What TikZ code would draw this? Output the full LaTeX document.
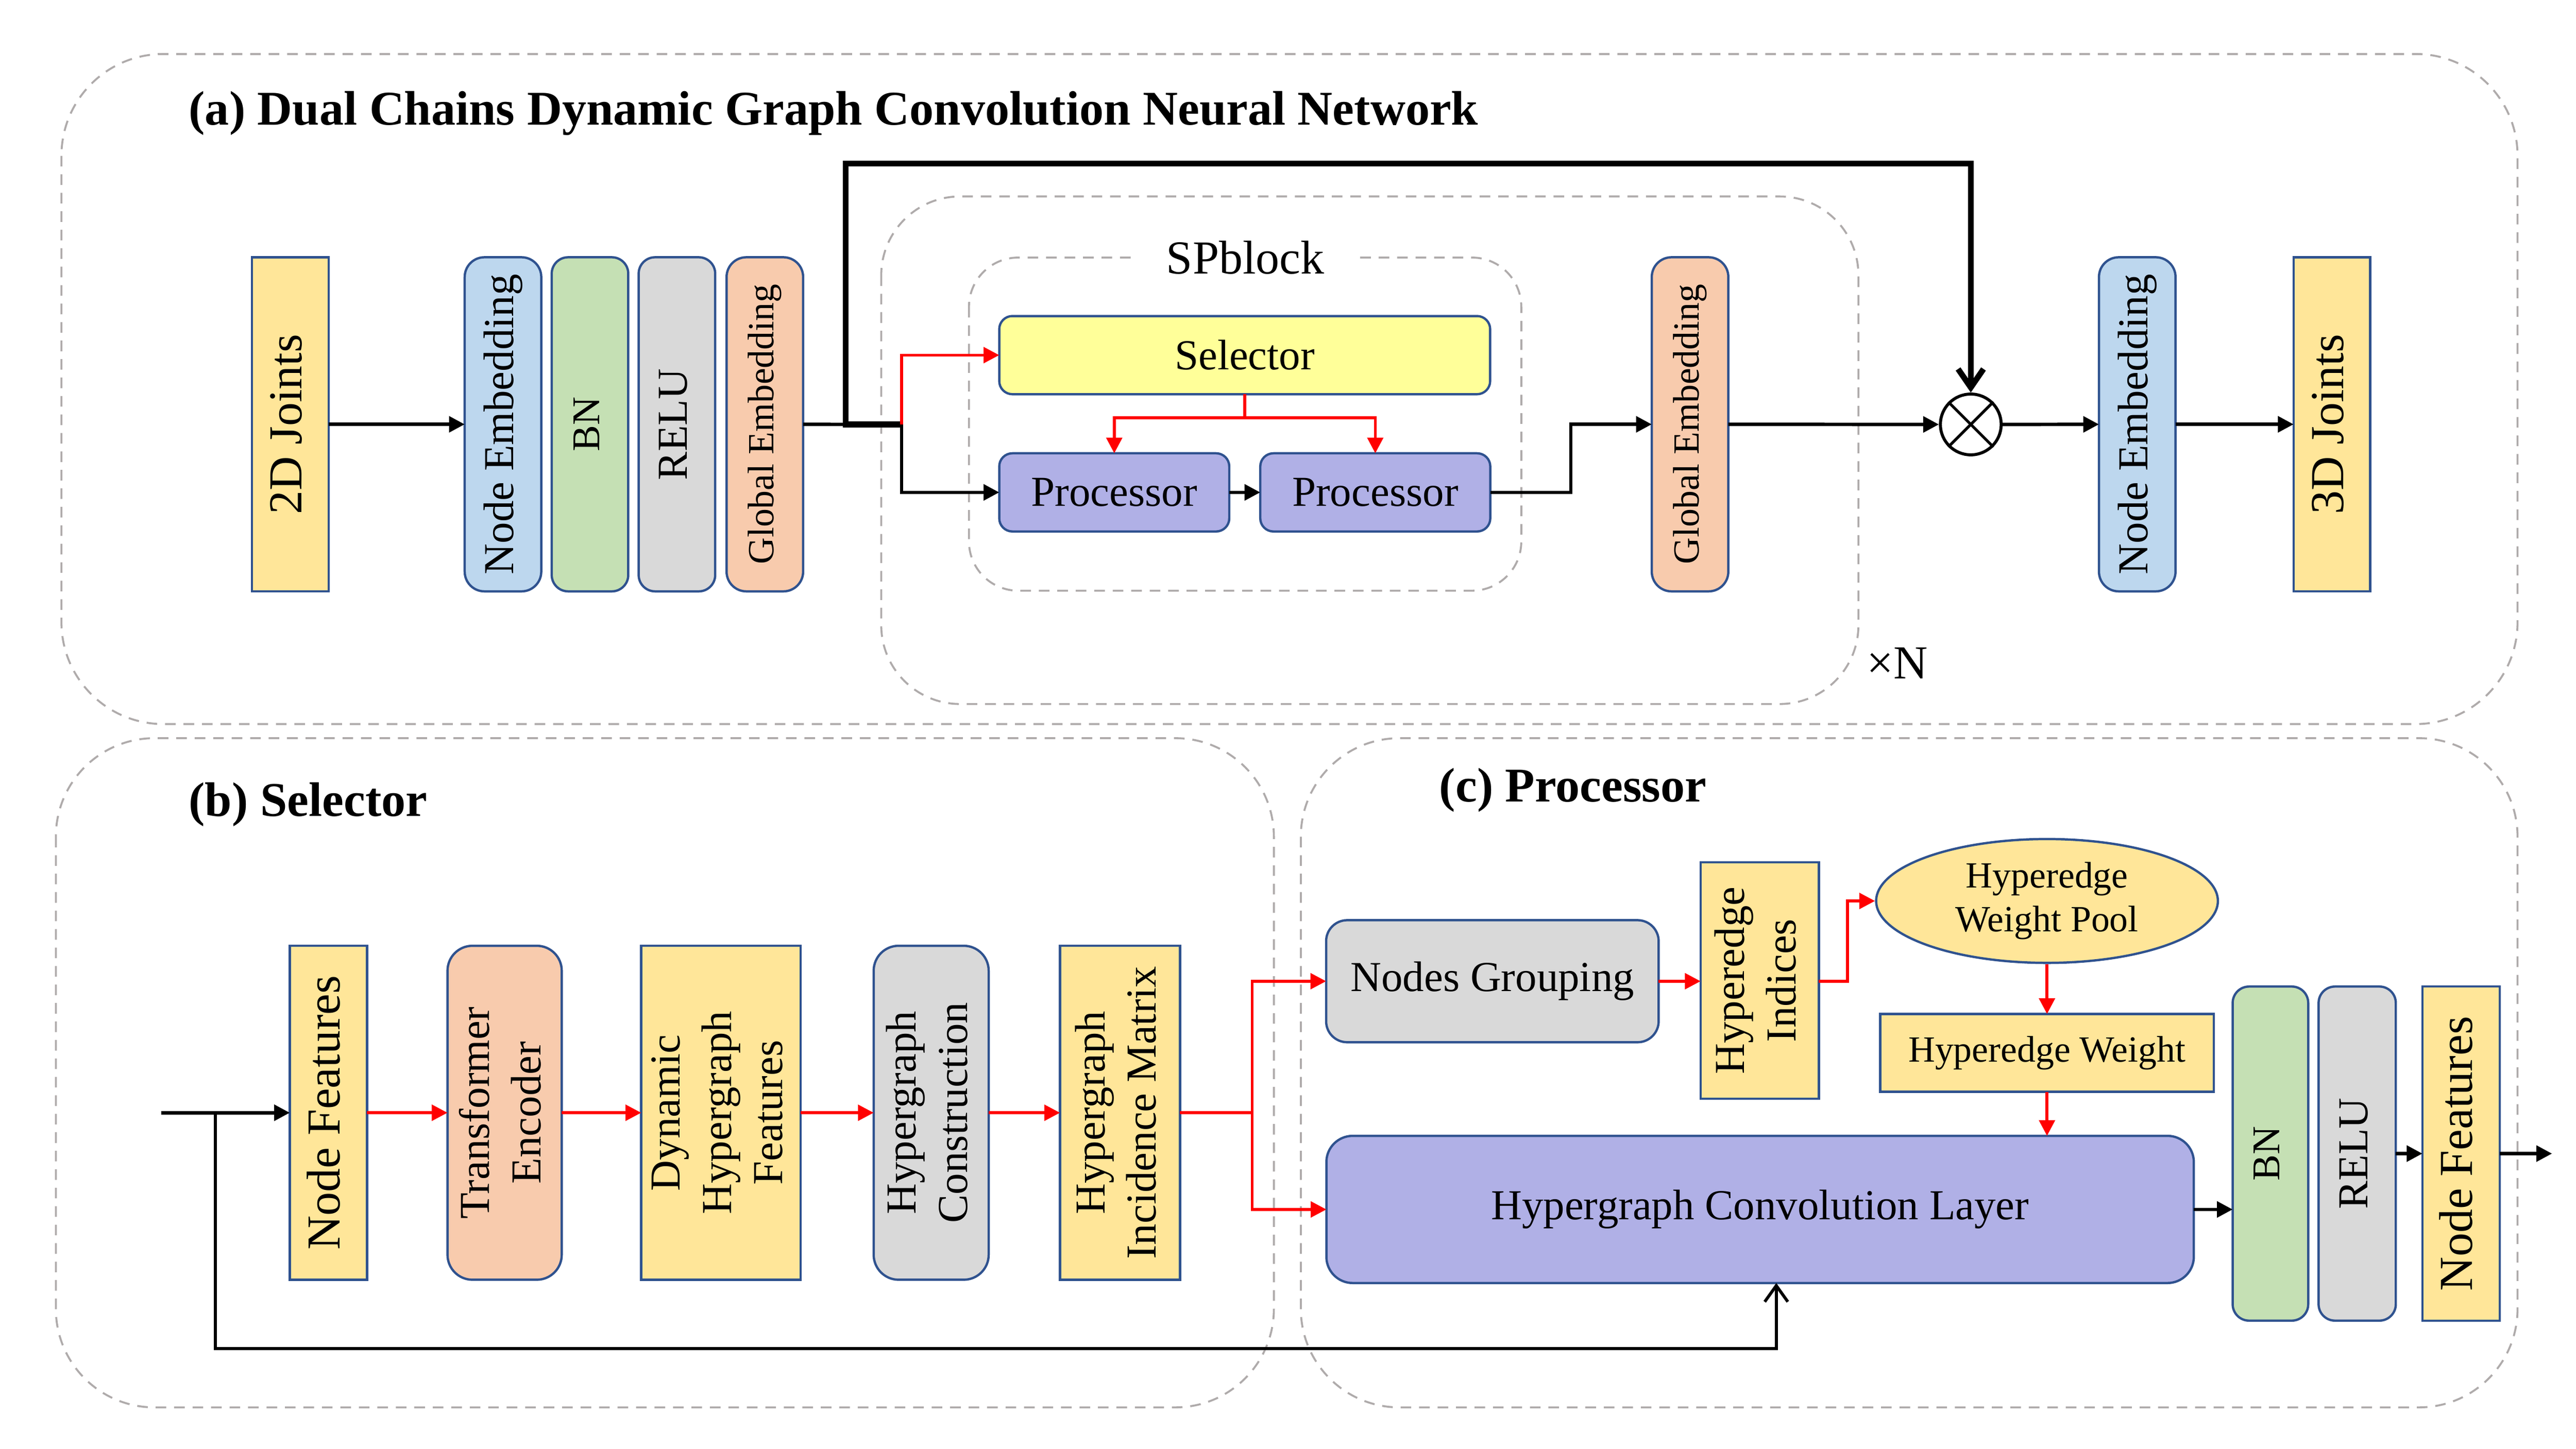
\documentclass[tikz,border=0pt]{standalone}
\usepackage{fontspec}
\setmainfont{Liberation Serif}
\usepackage{graphicx}
\usepackage{tikz}
\usetikzlibrary{arrows.meta,shapes.geometric}

\definecolor{boxline}{RGB}{47,82,143}
\definecolor{yel}{RGB}{255,230,153}
\definecolor{lemon}{RGB}{255,255,153}
\definecolor{sky}{RGB}{189,215,238}
\definecolor{leaf}{RGB}{197,224,180}
\definecolor{ash}{RGB}{217,217,217}
\definecolor{peach}{RGB}{248,203,173}
\definecolor{lilac}{RGB}{176,176,230}
\definecolor{dashgray}{RGB}{175,171,171}

\newcommand{\titlesize}{\fontsize{21pt}{25pt}\bfseries\selectfont}
\newcommand{\bigsize}{\fontsize{20.5pt}{24.6pt}\selectfont}
\newcommand{\bodysize}{\fontsize{18.5pt}{22.2pt}\selectfont}
\newcommand{\smallsize}{\fontsize{16pt}{19pt}\selectfont}
\newcommand{\vtext}[1]{\rotatebox{90}{\begin{tabular}{@{}c@{}}#1\end{tabular}}}

\begin{document}
\begin{tikzpicture}
  [block/.style={rectangle,draw=boxline,line width=1pt,align=center,
                 inner sep=0,outer sep=0,font=\bodysize},
   tall/.style={block,minimum width=1.165cm,minimum height=5.085cm},
   joint/.style={tall,fill=yel,font=\bigsize},
   embed/.style={tall,fill=sky,rounded corners=0.3cm},
   norm/.style={tall,fill=leaf,rounded corners=0.25cm,font=\fontsize{17pt}{20pt}\selectfont},
   act/.style={tall,fill=ash,rounded corners=0.25cm},
   globe/.style={tall,fill=peach,rounded corners=0.3cm,font=\smallsize},
   proc/.style={block,fill=lilac,rounded corners=0.2cm,minimum width=3.5cm,minimum height=1.19cm},
   panel/.style={draw=dashgray,line width=0.85pt,dash pattern=on 4.6pt off 3.4pt},
   arrow/.style={line width=1.5pt,-{Triangle[length=6.8pt,width=6.8pt]}},
   redarrow/.style={red,line width=1.3pt,-{Triangle[length=6.8pt,width=6.8pt]}},
   redline/.style={red,line width=1.3pt},
   skip/.style={line width=2.5pt,-{Straight Barb[length=8pt,width=11pt]}},
   loop/.style={line width=1.3pt,-{Straight Barb[length=7pt,width=10pt]}}]
  \useasboundingbox (0,0) rectangle (39.2,-22.05);
  % dashed frames
  \draw[panel,rounded corners=1.55cm] (0.935,-0.822) rectangle (38.31,-11.02);
  \draw[panel,rounded corners=1.5cm] (0.85,-11.235) rectangle (19.385,-21.42);
  \draw[panel,rounded corners=1.5cm] (19.795,-11.235) rectangle (38.31,-21.42);
  \draw[panel,rounded corners=1.2cm] (13.41,-2.99) rectangle (28.28,-10.715);
  \draw[panel,rounded corners=0.75cm] (14.745,-3.92) rectangle (23.15,-8.99);
  \node[font=\titlesize,anchor=base west] (titlea) at (2.75,-1.90)
    {(a) Dual Chains Dynamic Graph Convolution Neural Network};
  \node[font=\titlesize,anchor=base west] (titleb) at (2.75,-12.42) {(b) Selector};
  \node[font=\titlesize,anchor=base west] (titlec) at (21.78,-12.205) {(c) Processor};
  \node[fill=white,font=\bigsize,inner xsep=0.44cm,inner ysep=0.05cm] (spblock) at (18.95,-3.92) {SPblock};
  \node[font=\bigsize] (times) at (28.875,-10.09) {×N};

  % (a)
  \node[joint] (joints2d) at (4.418,-6.458) {\vtext{2D Joints}};
  \node[embed] (nodeemb1) at (7.654,-6.458) {\vtext{Node Embedding}};
  \node[norm] (bn1) at (8.978,-6.458) {\vtext{BN}};
  \node[act] (relu1) at (10.301,-6.458) {\vtext{RELU}};
  \node[globe] (globemb1) at (11.639,-6.458) {\vtext{Global Embedding}};
  \node[block,fill=lemon,rounded corners=0.2cm,minimum width=7.47cm,minimum height=1.19cm]
    (selector) at (18.941,-5.405) {Selector};
  \node[proc] (proc1) at (16.956,-7.494) {Processor};
  \node[proc] (proc2) at (20.928,-7.494) {Processor};
  \node[globe] (globemb2) at (25.718,-6.458) {\vtext{Global Embedding}};
  \node[circle,draw,line width=1.3pt,minimum size=0.925cm,inner sep=0] (mul) at (29.99,-6.46) {};
  \node[embed] (nodeemb2) at (32.523,-6.458) {\vtext{Node Embedding}};
  \node[joint] (joints3d) at (35.485,-6.458) {\vtext{3D Joints}};
  \coordinate (split1) at (13.72,-6.46);
  \coordinate (bypass) at (12.87,-2.49);
  \draw[arrow] (joints2d) -- (nodeemb1);
  \draw[line width=1.5pt] (globemb1) -- (split1);
  \draw[skip] (split1) -- (split1 -| bypass) -- (bypass) -| (mul.north);
  \draw[redarrow] (split1) |- (selector);
  \draw[arrow] (split1) |- (proc1);
  \draw[arrow] (proc1) -- (proc2);
  \draw[redarrow] (selector.south) -- ++(0,-0.36) -| (proc1.north);
  \draw[redarrow] (selector.south) -- ++(0,-0.36) -| (proc2.north);
  \draw[arrow] (proc2.east) -- ++(1.225,0) |- (globemb2);
  \draw[arrow] (globemb2) -- (mul);
  \draw[line width=1.2pt] (mul.north west) -- (mul.south east) (mul.north east) -- (mul.south west);
  \draw[arrow] (mul) -- (nodeemb2);
  \draw[arrow] (nodeemb2) -- (joints3d);

  % (b)
  \node[block,fill=yel,font=\bigsize,minimum width=1.175cm,minimum height=5.083cm]
    (nodefeat1) at (4.998,-16.936) {\vtext{Node Features}};
  \node[block,fill=peach,rounded corners=0.38cm,minimum width=1.738cm,minimum height=5.083cm]
    (transenc) at (7.679,-16.936) {\vtext{Transformer\\Encoder}};
  \node[block,fill=yel,minimum width=2.425cm,minimum height=5.083cm]
    (dynfeat) at (10.97,-16.936) {\vtext{Dynamic\\Hypergraph\\Features}};
  \node[block,fill=ash,rounded corners=0.38cm,minimum width=1.75cm,minimum height=5.083cm]
    (hgcons) at (14.17,-16.936) {\vtext{Hypergraph\\Construction}};
  \node[block,fill=yel,minimum width=1.825cm,minimum height=5.083cm]
    (incmat) at (17.043,-16.936) {\vtext{Hypergraph\\Incidence Matrix}};
  \coordinate (input) at (2.45,-16.936);
  \coordinate (split2) at (3.275,-16.936);
  \coordinate (split3) at (19.055,-16.936);
  \draw[arrow] (input) -- (nodefeat1);
  \draw[redarrow] (nodefeat1) -- (transenc);
  \draw[redarrow] (transenc) -- (dynfeat);
  \draw[redarrow] (dynfeat) -- (hgcons);
  \draw[redarrow] (hgcons) -- (incmat);
  \draw[redline] (incmat) -- (split3);

  % (c)
  \node[block,fill=ash,rounded corners=0.32cm,minimum width=5.06cm,minimum height=1.8575cm]
    (nodegroup) at (22.71,-14.934) {Nodes Grouping};
  \node[block,fill=yel,minimum width=1.8cm,minimum height=3.6cm]
    (hyidx) at (26.778,-14.924) {\vtext{Hyperedge\\Indices}};
  \node[ellipse,draw=boxline,line width=1pt,fill=yel,align=center,inner sep=0,font=\smallsize,
        minimum width=5.2cm,minimum height=1.885cm]
    (hypool) at (31.15,-13.7125) {Hyperedge\\Weight Pool};
  \node[block,fill=yel,font=\smallsize,minimum width=5.075cm,minimum height=1.185cm]
    (hyweight) at (31.15,-16.025) {Hyperedge Weight};
  \node[block,fill=lilac,rounded corners=0.4cm,minimum width=13.2cm,minimum height=2.24cm]
    (hgconv) at (26.784,-18.4075) {Hypergraph Convolution Layer};
  \node[norm,minimum width=1.15cm] (bn2) at (34.55,-17.5575) {\vtext{BN}};
  \node[act,minimum width=1.175cm] (relu2) at (35.87,-17.5575) {\vtext{RELU}};
  \node[joint,minimum width=1.175cm] (nodefeat2) at (37.45,-17.5575) {\vtext{Node Features}};
  \coordinate (output) at (38.835,-17.5575);
  \coordinate (loopend) at (27.03,-20.525);
  \draw[redarrow] (split3) |- (nodegroup);
  \draw[redarrow] (split3) |- (hgconv);
  \draw[redarrow] (nodegroup) -- (nodegroup -| hyidx.west);
  \draw[redarrow] (hyidx.east |- nodegroup) -- ++(0.435,0) |- (hypool);
  \draw[redarrow] (hypool) -- (hyweight);
  \draw[redarrow] (hyweight) -- (hyweight |- hgconv.north);
  \draw[arrow] (hgconv.east) -- (hgconv.east -| bn2.west);
  \draw[arrow] (relu2) -- (nodefeat2);
  \draw[arrow] (nodefeat2) -- (output);
  \draw[loop] (split2) |- (loopend) -- (loopend |- hgconv.south);
\end{tikzpicture}
\end{document}
